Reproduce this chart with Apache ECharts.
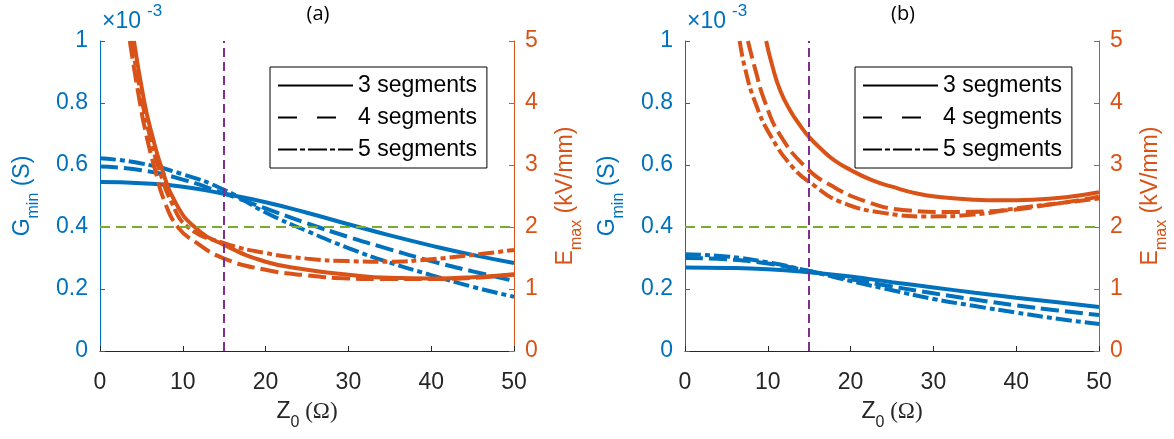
<!DOCTYPE html>
<html>
<head>
<meta charset="utf-8">
<title>Gmin and Emax versus Z0</title>
<script src="https://cdn.jsdelivr.net/npm/echarts@6/dist/echarts.min.js"></script>
<style>
  html, body { margin: 0; padding: 0; background: #fff; }
  #chart { width: 1174px; height: 439px; }
</style>
</head>
<body>
<div id="chart"></div>
<script>
// Characteristic impedance samples (ohm) for the conductance curves
const zSamples = [0, 5, 10, 15, 20, 25, 30, 35, 40, 45, 50];

// Minimum conductance Gmin, in units of 1e-3 S — panel (a)
const gA3 = [0.545, 0.541, 0.530, 0.507, 0.480, 0.446, 0.409, 0.373, 0.340, 0.310, 0.284];
const gA4 = [0.595, 0.583, 0.553, 0.508, 0.460, 0.412, 0.368, 0.328, 0.290, 0.257, 0.226];
const gA5 = [0.622, 0.605, 0.570, 0.520, 0.447, 0.387, 0.332, 0.285, 0.245, 0.207, 0.175];

// Minimum conductance Gmin, in units of 1e-3 S — panel (b)
const gB3 = [0.269, 0.268, 0.264, 0.254, 0.240, 0.222, 0.205, 0.188, 0.172, 0.157, 0.142];
const gB4 = [0.300, 0.296, 0.282, 0.258, 0.232, 0.208, 0.186, 0.166, 0.147, 0.131, 0.116];
const gB5 = [0.312, 0.305, 0.286, 0.258, 0.226, 0.196, 0.168, 0.145, 0.124, 0.104, 0.087];

// Peak field Emax (kV/mm) as [Z0, Emax] — panel (a)
const eA3 = [[4.1, 5], [5.35, 4.02], [6.3, 3.48], [7.45, 2.95], [9.05, 2.41], [11.5, 1.99], [15, 1.71],
             [20, 1.44], [25, 1.31], [30, 1.23], [35, 1.18], [40, 1.17], [45, 1.19], [50, 1.24]];
const eA4 = [[3.6, 5], [4.8, 4.02], [5.6, 3.48], [6.6, 2.95], [7.8, 2.41], [9.45, 1.99], [11.5, 1.76], [15, 1.49],
             [20, 1.31], [25, 1.22], [30, 1.17], [35, 1.16], [40, 1.16], [45, 1.18], [50, 1.23]];
const eA5 = [[3.8, 5], [5.1, 4.02], [6.0, 3.48], [7.1, 2.95], [8.6, 2.41], [10.7, 1.99], [15, 1.74],
             [20, 1.58], [25, 1.49], [30, 1.45], [35, 1.44], [40, 1.48], [45, 1.55], [50, 1.63]];

// Peak field Emax (kV/mm) as [Z0, Emax] — panel (b)
const eB3 = [[9.8, 5], [10.5, 4.62], [11.5, 4.2], [12.7, 3.88], [14, 3.62], [15, 3.45], [16.5, 3.25], [18, 3.08],
             [20, 2.92], [22.5, 2.76], [25, 2.65], [28, 2.54], [31, 2.48], [35, 2.44], [38, 2.43], [42, 2.44],
             [46, 2.48], [50, 2.56]];
const eB4 = [[7.6, 5], [8.45, 4.56], [9.65, 4.02], [11.5, 3.48], [14.7, 2.95], [17.5, 2.68], [21.9, 2.41],
             [26.7, 2.27], [31.6, 2.24], [37.6, 2.26], [45, 2.38], [50, 2.49]];
const eB5 = [[6.6, 5], [7.25, 4.56], [8.45, 4.02], [10.3, 3.48], [13.1, 2.95], [15.5, 2.68], [18.7, 2.41],
             [24.3, 2.22], [29.2, 2.17], [34.8, 2.2], [40, 2.3], [45, 2.38], [50, 2.46]];

// Design limits drawn as reference lines
const zDesign = 15;      // ohm
const gLimit = 0.4;      // 1e-3 S (same level as 2 kV/mm)

const segNames = ['3 segments', '4 segments', '5 segments'];
const panelTitles = ['(a)', '(b)'];
const gTicks = { min: 0, max: 1, interval: 0.2 };
const eTicks = { min: 0, max: 5, interval: 1 };
const zTicks = { min: 0, max: 50, interval: 10 };

const BLUE = '#0072BD', ORANGE = '#D95319', GREEN = '#77AC30', PURPLE = '#7E2F8E', INK = '#262626';
const FONT = '"Liberation Sans", Arial, sans-serif';
const DASH = [18, 6];
const DASHDOT = [16, 4, 5, 4];
const lineTypes = ['solid', DASH, DASHDOT];

const gridLeft = [100, 685];

function pairs(xs, ys) { return xs.map((x, i) => [x, ys[i]]); }

const chart = echarts.init(document.getElementById('chart'), null, { renderer: 'canvas' });

const grids = gridLeft.map(l => ({ left: l, width: 414, top: 41, height: 310, containLabel: false }));

const xAxes = [0, 1].map(i => ({
  type: 'value', gridIndex: i, min: zTicks.min, max: zTicks.max, interval: zTicks.interval,
  axisLine: { onZero: false, lineStyle: { color: INK, width: 1 } },
  axisTick: { inside: true, length: 5, lineStyle: { color: INK } },
  axisLabel: { color: INK, fontSize: 23, fontFamily: FONT, margin: 20 },
  splitLine: { show: false },
  name: '{z|Z}{s|0}{o| (Ω)}',
  nameLocation: 'middle', nameGap: 49,
  nameTextStyle: {
    rich: {
      z: { fontSize: 23, fontFamily: FONT, color: INK, padding: [0, 0, 8, 0], verticalAlign: 'top' },
      s: { fontSize: 16, fontFamily: FONT, color: INK, verticalAlign: 'bottom' },
      o: { fontSize: 23, fontFamily: '"Liberation Serif", serif', color: INK, padding: [0, 0, 8, 0], verticalAlign: 'top' }
    }
  }
}));

const yAxes = [];
[0, 1].forEach(i => {
  yAxes.push({
    type: 'value', gridIndex: i, position: 'left', min: gTicks.min, max: gTicks.max, interval: gTicks.interval,
    axisLine: { show: true, lineStyle: { color: BLUE, width: 1 } },
    axisTick: { show: true, inside: true, length: 5, lineStyle: { color: BLUE } },
    axisLabel: { color: BLUE, fontSize: 23, fontFamily: FONT, margin: 12,
                 formatter: v => (Math.round(v * 10) / 10).toString() },
    splitLine: { show: false },
    name: '{g|G}{s|min}{g| (S)}',
    nameLocation: 'middle', nameRotate: 90, nameGap: 58,
    nameTextStyle: {
      rich: {
        g: { fontSize: 23, fontFamily: FONT, color: BLUE, padding: [0, 0, 8, 0], verticalAlign: 'top' },
        s: { fontSize: 16, fontFamily: FONT, color: BLUE, verticalAlign: 'bottom' }
      }
    }
  });
  yAxes.push({
    type: 'value', gridIndex: i, position: 'right', min: eTicks.min, max: eTicks.max, interval: eTicks.interval,
    axisLine: { show: true, lineStyle: { color: ORANGE, width: 1 } },
    axisTick: { show: true, inside: true, length: 5, lineStyle: { color: ORANGE } },
    axisLabel: { color: ORANGE, fontSize: 23, fontFamily: FONT, margin: 11 },
    splitLine: { show: false },
    name: '{g|E}{s|max}{g| (kV/mm)}',
    nameLocation: 'middle', nameRotate: 90, nameGap: 40,
    nameTextStyle: {
      rich: {
        g: { fontSize: 23, fontFamily: FONT, color: ORANGE, padding: [0, 0, 8, 0], verticalAlign: 'top' },
        s: { fontSize: 16, fontFamily: FONT, color: ORANGE, verticalAlign: 'bottom' }
      }
    }
  });
});

function curve(name, data, grid, onE, color, k) {
  return {
    name: name + (onE ? ' E' : ' G') + grid,
    type: 'line', xAxisIndex: grid, yAxisIndex: grid * 2 + (onE ? 1 : 0),
    data: data, symbol: 'none', smooth: 0.5, clip: true,
    lineStyle: { color: color, width: 4, type: lineTypes[k], cap: 'butt' },
    z: onE ? 3 : 2, silent: true
  };
}

function guides(grid) {
  return {
    name: 'guides' + grid, type: 'line', xAxisIndex: grid, yAxisIndex: grid * 2, data: [],
    symbol: 'none', silent: true,
    markLine: {
      silent: true, symbol: ['none', 'none'], label: { show: false }, animation: false,
      data: [
        { xAxis: zDesign, lineStyle: { color: PURPLE, type: [9, 5], width: 2 } },
        { yAxis: gLimit, lineStyle: { color: GREEN, type: [10, 6], width: 2 } }
      ]
    },
    z: 4
  };
}

const gSets = [[gA3, gA4, gA5], [gB3, gB4, gB5]];
const eSets = [[eA3, eA4, eA5], [eB3, eB4, eB5]];

const series = [];
[0, 1].forEach(p => {
  gSets[p].forEach((g, k) => series.push(curve(segNames[k], pairs(zSamples, g), p, false, BLUE, k)));
  eSets[p].forEach((e, k) => series.push(curve(segNames[k], e, p, true, ORANGE, k)));
  series.push(guides(p));
});
// Black legend entries for the segment count
segNames.forEach((n, k) => series.push({
  name: n, type: 'line', xAxisIndex: 0, yAxisIndex: 0, data: [], symbol: 'none',
  lineStyle: { color: '#000', width: 4, type: lineTypes[k] }, itemStyle: { color: '#000' }
}));

const legendItems = [
  { name: segNames[0] },
  { name: segNames[1], lineStyle: { type: [19, 20] } },
  { name: segNames[2], lineStyle: { type: [19, 3, 5, 3] } }
];

const legends = [270, 855].map(l => ({
  data: legendItems, orient: 'vertical', left: l, top: 67,
  itemWidth: 75, itemHeight: 14, itemGap: 9, padding: [7, 10, 7, 7],
  backgroundColor: '#fff', borderColor: '#000', borderWidth: 1, borderRadius: 0,
  itemStyle: { color: 'rgba(0,0,0,0)', borderColor: 'rgba(0,0,0,0)', borderWidth: 0 },
  textStyle: { fontSize: 23, fontFamily: FONT, color: '#000', lineHeight: 23 },
  selectedMode: false, z: 10
}));

const graphics = [];
panelTitles.forEach((t, p) => {
  graphics.push({ type: 'text', x: gridLeft[p] + 218, y: 4,
    style: { text: t, fontSize: 20, fontFamily: '"Open Sans", "Noto Sans", sans-serif', fill: '#000', align: 'center' } });
  graphics.push({ type: 'text', left: gridLeft[p] + 2, top: 10,
    style: { text: '×10', fontSize: 23, fontFamily: FONT, fill: BLUE } });
  graphics.push({ type: 'text', left: gridLeft[p] + 47, top: 3,
    style: { text: '-3', fontSize: 17, fontFamily: FONT, fill: BLUE } });
});

chart.setOption({
  animation: false,
  backgroundColor: '#fff',
  grid: grids,
  xAxis: xAxes,
  yAxis: yAxes,
  legend: legends,
  graphic: graphics,
  series: series
});
</script>
</body>
</html>
